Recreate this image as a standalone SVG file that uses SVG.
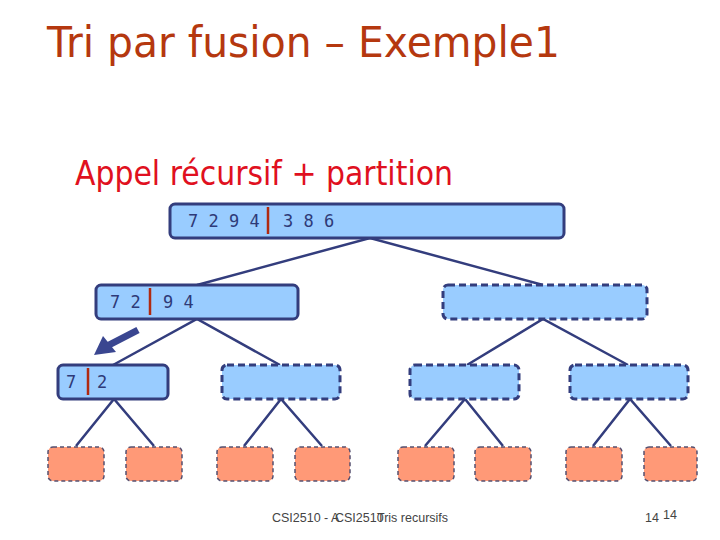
<svg xmlns="http://www.w3.org/2000/svg" width="720" height="540" viewBox="0 0 720 540">
<style>
.n{fill:#99ccff;stroke:#333d7d;stroke-width:3}
.d{stroke-dasharray:7 4}
.leaf{fill:#ff9977;stroke:#555070;stroke-width:1.5;stroke-dasharray:4 3}
.c{stroke:#333d7d;stroke-width:2.5;fill:none}
.t{font-family:"DejaVu Sans Mono",monospace;font-size:17px;fill:#2e3a78}
.bar{stroke:#b02a10;stroke-width:2.5}
.ft{font-family:"Liberation Sans",Arial,sans-serif;font-size:12.5px;fill:#444}
</style>
<rect width="720" height="540" fill="#fff"/>
<text x="47" y="57" font-family="'DejaVu Sans',sans-serif" font-size="42" fill="#b5380f" textLength="513" lengthAdjust="spacingAndGlyphs">Tri par fusion – Exemple1</text>
<text x="75" y="185" font-family="'DejaVu Sans',sans-serif" font-size="33" fill="#e01020" textLength="378" lengthAdjust="spacingAndGlyphs">Appel récursif + partition</text>
<g id="connectors">
<polyline class="c" points="197,285 370,238 543,285"/>
<polyline class="c" points="113,365 197,319 280,365"/>
<polyline class="c" points="467,365 543,319 628,365"/>
<polyline class="c" points="76,446 114,399 154,446"/>
<polyline class="c" points="244,446 281,399 322,446"/>
<polyline class="c" points="425,446 465,399 503,446"/>
<polyline class="c" points="593,446 630,399 671,446"/>
</g>
<g id="root">
<rect class="n" x="170" y="204" width="394" height="34" rx="5"/>
<text class="t" x="188" y="227">7 2 9 4</text>
<line class="bar" x1="268" y1="207" x2="268" y2="234"/>
<text class="t" x="283" y="227">3 8 6</text>
</g>
<g id="n72_94">
<rect class="n" x="96" y="285" width="202" height="34" rx="5"/>
<text class="t" x="110" y="308">7 2</text>
<line class="bar" x1="150" y1="288" x2="150" y2="315"/>
<text class="t" x="163" y="308">9 4</text>
</g>
<g id="n386"><rect class="n d" x="443" y="285" width="204" height="34" rx="5"/></g>
<g id="n7_2">
<rect class="n" x="58" y="365" width="110" height="34" rx="5"/>
<text class="t" x="66" y="388">7</text>
<line class="bar" x1="88" y1="368" x2="88" y2="395"/>
<text class="t" x="97" y="388">2</text>
</g>
<g id="n94"><rect class="n d" x="222" y="365" width="118" height="34" rx="5"/></g>
<g id="n38"><rect class="n d" x="410" y="365" width="109" height="34" rx="5"/></g>
<g id="n6"><rect class="n d" x="570" y="365" width="118" height="34" rx="5"/></g>
<g id="leaf1"><rect class="leaf" x="48" y="447" width="56" height="34" rx="5"/></g>
<g id="leaf2"><rect class="leaf" x="126" y="447" width="56" height="34" rx="5"/></g>
<g id="leaf3"><rect class="leaf" x="217" y="447" width="56" height="34" rx="5"/></g>
<g id="leaf4"><rect class="leaf" x="295" y="447" width="55" height="34" rx="5"/></g>
<g id="leaf5"><rect class="leaf" x="398" y="447" width="56" height="34" rx="5"/></g>
<g id="leaf6"><rect class="leaf" x="475" y="447" width="56" height="34" rx="5"/></g>
<g id="leaf7"><rect class="leaf" x="566" y="447" width="56" height="34" rx="5"/></g>
<g id="leaf8"><rect class="leaf" x="644" y="447" width="53" height="34" rx="5"/></g>
<g id="arrow">
<line x1="138" y1="330" x2="107" y2="346" stroke="#3a4690" stroke-width="7"/>
<polygon points="94,355 103,336 116,352" fill="#3a4690"/>
</g>
<text class="ft" x="272" y="522">CSI2510 - A</text>
<text class="ft" x="335" y="522">CSI2510</text>
<text class="ft" x="377" y="522">Tris recursifs</text>
<text class="ft" x="645" y="522">14</text>
<text class="ft" x="663" y="519" font-size="10">14</text>
</svg>
